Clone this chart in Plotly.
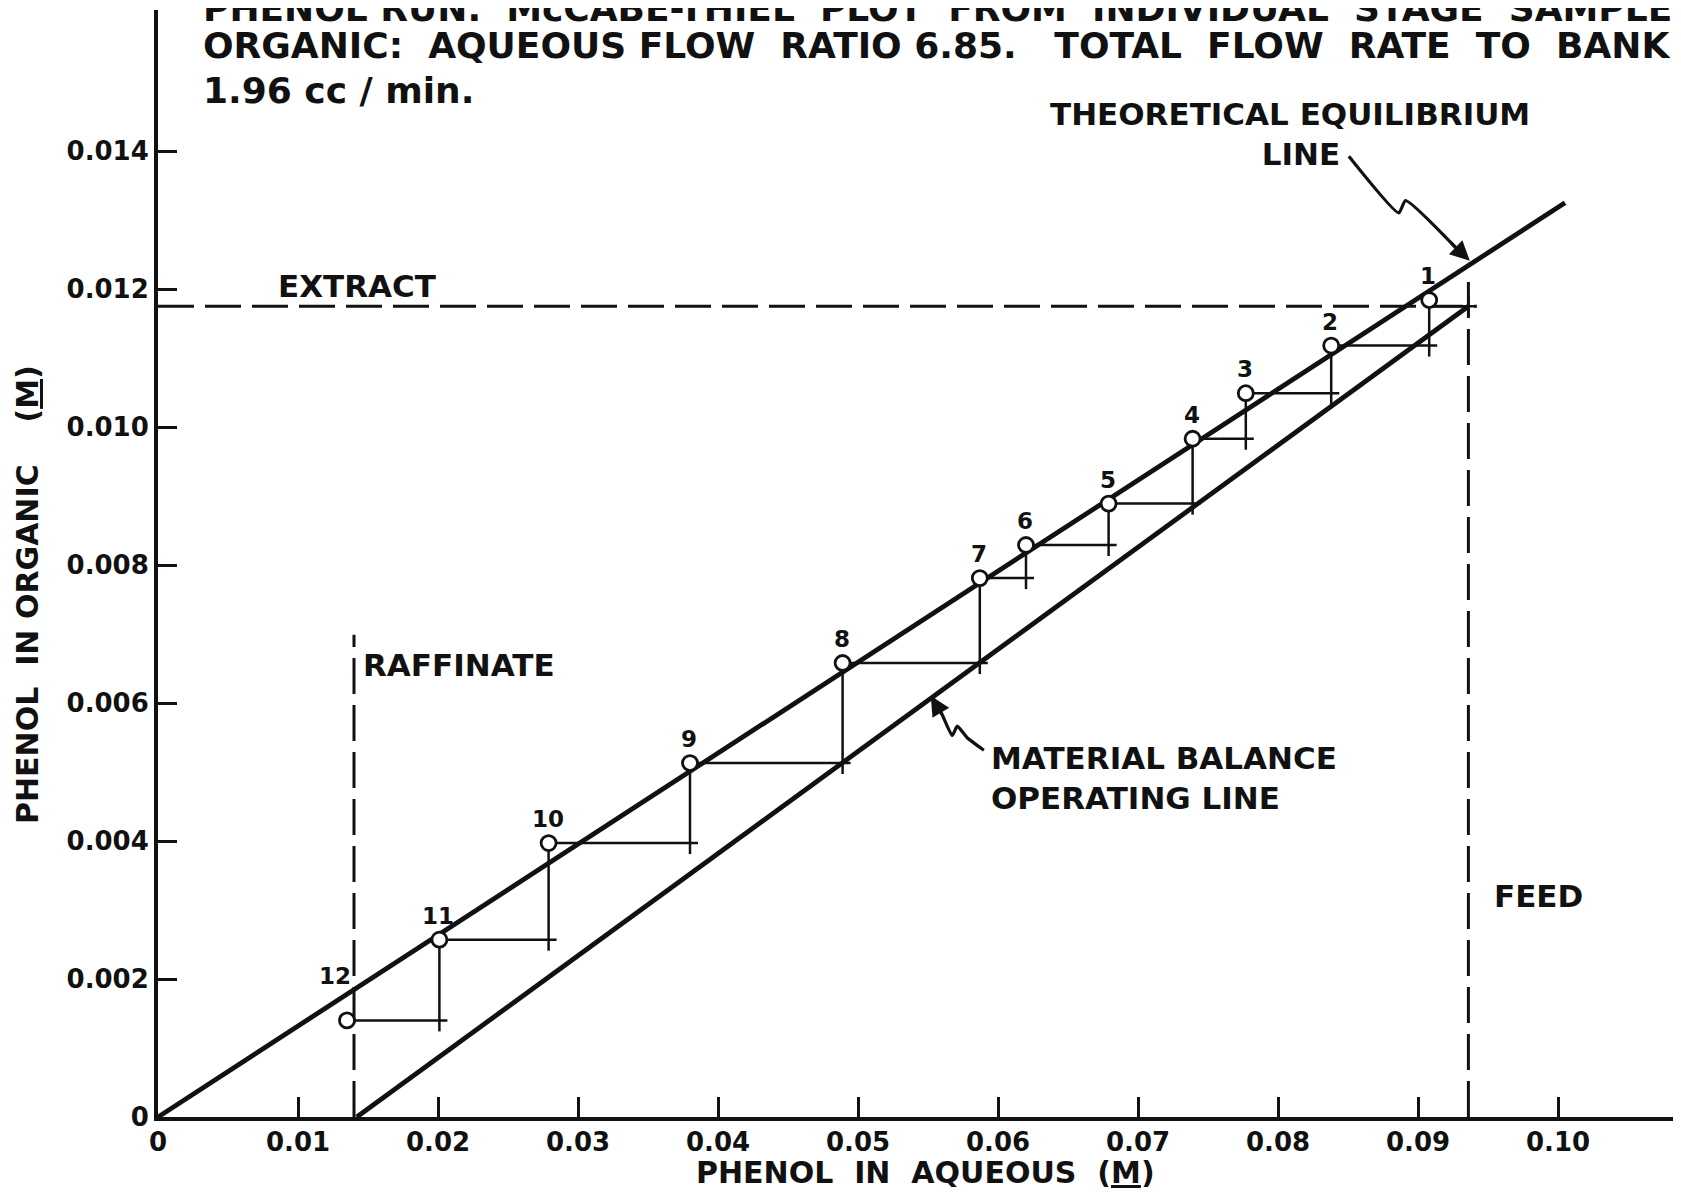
import plotly.graph_objects as go

# ---------------- data ----------------
stage_numbers = [1, 2, 3, 4, 5, 6, 7, 8, 9, 10, 11, 12]
x_aqueous = [0.0908, 0.0838, 0.0777, 0.0739, 0.0679, 0.0620, 0.0587, 0.0489, 0.0380, 0.0279, 0.0201, 0.0135]
y_organic = [0.01184, 0.01118, 0.01049, 0.00983, 0.00889, 0.00829, 0.00781, 0.00658, 0.00513, 0.00397, 0.00257, 0.00140]

x_feed = 0.0936
y_extract = 0.01175
x_raffinate = 0.0140
feed_line_top = 0.01219
raffinate_line_top = 0.00699
extract_line_end = 0.0942

equilibrium_x = [0.0, 0.1005]
equilibrium_y = [0.0, 0.01325]
operating_x = [0.0142, 0.0936]
operating_y = [0.0, 0.01175]

# callout squiggles (data units)
eq_arrow_x = [0.08506, 0.08863, 0.08911, 0.09330]
eq_arrow_y = [0.013925, 0.013104, 0.013280, 0.012470]
op_arrow_x = [0.05899, 0.05780, 0.05709, 0.05673, 0.05601, 0.05540]
op_arrow_y = [0.005316, 0.005496, 0.005664, 0.005529, 0.005833, 0.006060]

x_tick_vals = [0, 0.01, 0.02, 0.03, 0.04, 0.05, 0.06, 0.07, 0.08, 0.09, 0.10]
x_tick_text = ["0", "0.01", "0.02", "0.03", "0.04", "0.05", "0.06", "0.07", "0.08", "0.09", "0.10"]
y_tick_vals = [0, 0.002, 0.004, 0.006, 0.008, 0.010, 0.012, 0.014]
y_tick_text = ["0", "0.002", "0.004", "0.006", "0.008", "0.010", "0.012", "0.014"]

# ---------------- layout geometry ----------------
PAGE_OFF = 8                      # browser body margin
W, H = 1681 - PAGE_OFF, 1192 - PAGE_OFF
X0_PAGE, Y0_PAGE, TOP_PAGE = 158, 1117, 10
ML = X0_PAGE - PAGE_OFF
MT = TOP_PAGE - PAGE_OFF
MB = H - (Y0_PAGE - PAGE_OFF)
MR = 0
PX_PER_X = 14000.0
PX_PER_Y = 69000.0
PW, PH = W - ML - MR, H - MT - MB
x_max = PW / PX_PER_X
y_max = PH / PX_PER_Y


def paper_x(px):
    return (px - X0_PAGE) / PW


def paper_y(py):
    return (Y0_PAGE - py) / PH


FONT = "DejaVu Sans"
INK = "#111111"
NB = "\u00a0"

# arm extension of the "+" marks
dx_arm = 8 / PX_PER_X
dy_arm = 11 / PX_PER_Y

# ---------------- staircase segments ----------------
sx, sy = [], []
n = len(x_aqueous)
for i in range(n):
    if i == 0:
        sx += [x_aqueous[0], x_feed + dx_arm, None]
        sy += [y_extract, y_extract, None]
    else:
        sx += [x_aqueous[i], x_aqueous[i - 1] + dx_arm, None]
        sy += [y_organic[i], y_organic[i], None]
    if i < n - 1:
        sx += [x_aqueous[i], x_aqueous[i], None]
        sy += [y_organic[i], y_organic[i + 1] - dy_arm, None]
sx += [x_feed, x_feed, None]
sy += [y_extract - dy_arm, y_extract + dy_arm, None]

fig = go.Figure()

fig.add_trace(go.Scatter(x=equilibrium_x, y=equilibrium_y, mode="lines",
                         line=dict(color=INK, width=4.8), hoverinfo="skip"))
fig.add_trace(go.Scatter(x=operating_x, y=operating_y, mode="lines",
                         line=dict(color=INK, width=4.8), hoverinfo="skip"))
fig.add_trace(go.Scatter(x=sx, y=sy, mode="lines",
                         line=dict(color=INK, width=2.5), hoverinfo="skip"))

dash = "36px,11px"
fig.add_trace(go.Scatter(x=[0, extract_line_end], y=[y_extract, y_extract], mode="lines",
                         line=dict(color=INK, width=3, dash=dash), hoverinfo="skip"))
fig.add_trace(go.Scatter(x=[x_feed, x_feed], y=[0, feed_line_top], mode="lines",
                         line=dict(color=INK, width=3, dash=dash), hoverinfo="skip"))
fig.add_trace(go.Scatter(x=[x_raffinate, x_raffinate], y=[0, raffinate_line_top], mode="lines",
                         line=dict(color=INK, width=3, dash=dash), hoverinfo="skip"))

fig.add_trace(go.Scatter(x=eq_arrow_x, y=eq_arrow_y, mode="lines",
                         line=dict(color=INK, width=3.2, shape="spline", smoothing=0.5), hoverinfo="skip"))
fig.add_trace(go.Scatter(x=op_arrow_x, y=op_arrow_y, mode="lines",
                         line=dict(color=INK, width=3.2, shape="spline", smoothing=0.5), hoverinfo="skip"))

fig.add_trace(go.Scatter(x=x_aqueous, y=y_organic, mode="markers",
                         marker=dict(symbol="circle", size=15, color="white",
                                     line=dict(color=INK, width=2.8)),
                         hoverinfo="skip", cliponaxis=False))

annotations = []
# stage numbers
for k, (xv, yv) in enumerate(zip(x_aqueous, y_organic)):
    xs, ys = -1, 24
    if stage_numbers[k] == 12:
        xs, ys = -12, 44
    annotations.append(dict(x=xv, y=yv, xref="x", yref="y", text="<b>%d</b>" % stage_numbers[k],
                            showarrow=False, xshift=xs, yshift=ys,
                            font=dict(family=FONT, size=23, color=INK)))

# arrow heads
annotations.append(dict(x=eq_arrow_x[-1] + 0.0004, y=eq_arrow_y[-1] - 0.00006, xref="x", yref="y", text="",
                        showarrow=True, ax=-20, ay=-19, arrowhead=2, arrowsize=1.3,
                        arrowwidth=3, arrowcolor=INK, standoff=0))
annotations.append(dict(x=op_arrow_x[-1] - 0.0002, y=op_arrow_y[-1] + 0.00004, xref="x", yref="y", text="",
                        showarrow=True, ax=12, ay=20, arrowhead=2, arrowsize=1.3,
                        arrowwidth=3, arrowcolor=INK, standoff=0))

lbl = dict(family=FONT, size=31, color=INK)


def B(t):
    return "<b>" + t + "</b>"


annotations += [
    dict(x=paper_x(1290), y=paper_y(134), xref="paper", yref="paper",
         text=B("THEORETICAL EQUILIBRIUM") + "<br>" + B(NB * 2 + "LINE"), showarrow=False,
         xanchor="center", yanchor="middle", align="center", font=lbl),
    dict(x=paper_x(989), y=paper_y(778), xref="paper", yref="paper",
         text=B("MATERIAL BALANCE") + "<br>" + B("OPERATING LINE"), showarrow=False,
         xanchor="left", yanchor="middle", align="left", font=lbl),
    dict(x=paper_x(276), y=paper_y(286), xref="paper", yref="paper",
         text=B("EXTRACT"), showarrow=False, xanchor="left", yanchor="middle", font=lbl),
    dict(x=paper_x(361), y=paper_y(665), xref="paper", yref="paper",
         text=B("RAFFINATE"), showarrow=False, xanchor="left", yanchor="middle", font=lbl),
    dict(x=paper_x(1492), y=paper_y(896), xref="paper", yref="paper",
         text=B("FEED"), showarrow=False, xanchor="left", yanchor="middle", font=lbl),
]

tfont = dict(family=FONT, size=36, color=INK)
sp2 = NB * 2
title_lines = [
    ("PHENOL" + NB + "RUN." + sp2 + "McCABE-THIEL" + sp2 + "PLOT" + sp2 + "FROM" + sp2 + "INDIVIDUAL" + sp2 + "STAGE" + sp2 + "SAMPLES", 9),
    ("ORGANIC:" + sp2 + "AQUEOUS" + NB + "FLOW" + sp2 + "RATIO" + NB + "6.85." + NB * 3 + "TOTAL" + sp2 + "FLOW" + sp2 + "RATE" + sp2 + "TO" + sp2 + "BANK", 46),
    ("1.96" + NB + "cc" + NB + "/" + NB + "min.", 90),
]
for txt, py in title_lines:
    annotations.append(dict(x=paper_x(201), y=paper_y(py), xref="paper", yref="paper",
                            text=B(txt), showarrow=False, xanchor="left", yanchor="middle", font=tfont))

axfont = dict(family=FONT, size=30, color=INK)
annotations.append(dict(x=paper_x(925), y=paper_y(1172), xref="paper", yref="paper",
                        text=B("PHENOL" + NB * 2 + "IN" + NB * 2 + "AQUEOUS" + NB * 2 + "(<u>M</u>)"),
                        showarrow=False, xanchor="center", yanchor="middle", font=axfont))
annotations.append(dict(x=paper_x(27), y=paper_y(595), xref="paper", yref="paper",
                        text=B("PHENOL" + NB * 2 + "IN" + NB + "ORGANIC" + NB * 4 + "(<u>M</u>)"),
                        showarrow=False, textangle=-90, xanchor="center", yanchor="middle", font=axfont))

tickfont = dict(family=FONT + " Bold, " + FONT, size=26, color=INK, weight="bold")
fig.update_layout(
    width=W, height=H,
    margin=dict(l=ML, r=MR, t=MT, b=MB),
    paper_bgcolor="white", plot_bgcolor="white",
    showlegend=False,
    annotations=annotations,
    xaxis=dict(range=[0, x_max], tickvals=x_tick_vals, ticktext=x_tick_text,
               ticks="inside", ticklen=20, tickwidth=3, tickcolor=INK,
               showline=True, linewidth=4, linecolor=INK, showgrid=False, zeroline=False,
               tickfont=tickfont, ticklabelstandoff=-1),
    yaxis=dict(range=[0, y_max], tickvals=y_tick_vals, ticktext=y_tick_text,
               ticks="inside", ticklen=19, tickwidth=3, tickcolor=INK,
               showline=True, linewidth=4, linecolor=INK, showgrid=False, zeroline=False,
               tickfont=tickfont, ticklabelstandoff=0),
)

fig.write_html("out.html")
